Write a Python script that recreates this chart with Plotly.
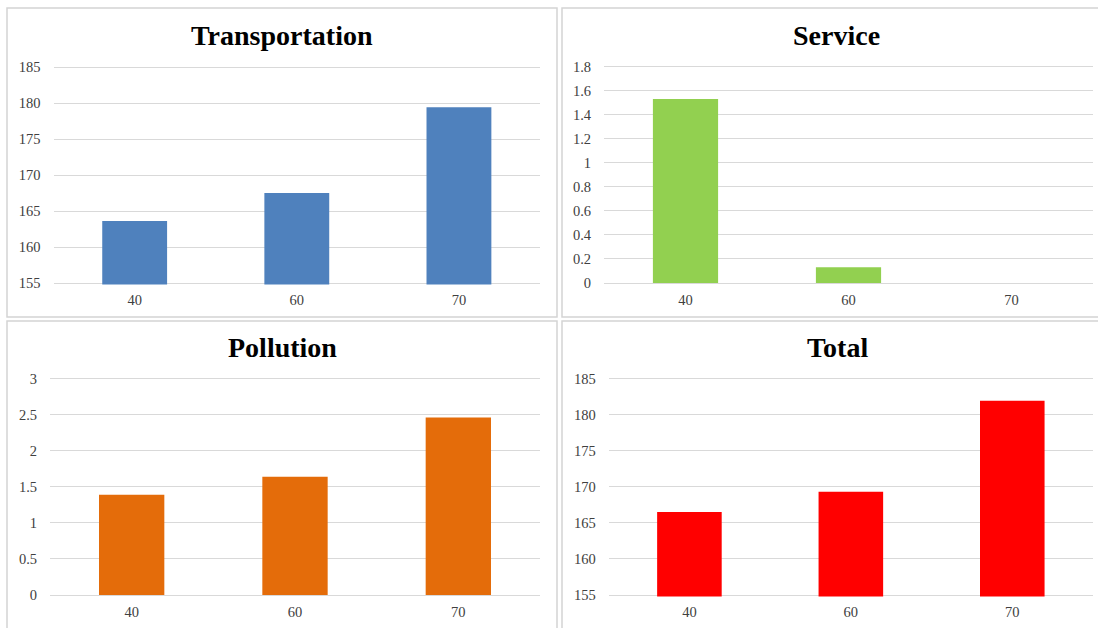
import plotly.graph_objects as go

W, H = 1098, 628

categories = ["40", "60", "70"]
transportation = [163.6, 167.5, 179.4]
service = [1.53, 0.13, 0.0]
pollution = [1.39, 1.64, 2.46]
total = [166.5, 169.3, 181.9]

titles = ["Transportation", "Service", "Pollution", "Total"]
colors = ["#4f81bd", "#92d050", "#e46c0a", "#ff0000"]
series = [transportation, service, pollution, total]
yranges = [[155, 185], [0, 1.8], [0, 3], [155, 185]]
ydticks = [5, 0.2, 0.5, 5]

# pixel layout (left, right, top, bottom) of plot areas
plot_px = [(53.6, 540, 67, 283), (604, 1093, 66.5, 283),
           (50, 540, 378.5, 595), (608.7, 1093, 378.5, 595)]
title_px = [(282, 35), (836, 35), (282, 347), (837, 347)]
box_px = [(7, 557, 8, 317), (562, 1115, 8, 317), (7, 557, 321, 640), (562, 1115, 321, 640)]

def px_x(x):
    return x / W

def px_y(y):
    return 1 - y / H

fig = go.Figure()
font_family = "Liberation Serif, Times New Roman, serif"
tick_font = dict(family=font_family, size=14.5, color="#404040")

for i in range(4):
    xa = "x" if i == 0 else f"x{i+1}"
    ya = "y" if i == 0 else f"y{i+1}"
    fig.add_trace(go.Bar(x=categories, y=series[i], marker=dict(color=colors[i], line=dict(width=0)),
                         width=0.4, xaxis=xa, yaxis=ya, showlegend=False))
    l, r, t, b = plot_px[i]
    lo, hi = yranges[i]
    span = hi - lo
    pxh = b - t
    pad_px = 1.5
    eps = span * pad_px / pxh
    xkey = "xaxis" if i == 0 else f"xaxis{i+1}"
    ykey = "yaxis" if i == 0 else f"yaxis{i+1}"
    fig.layout[xkey] = dict(domain=[px_x(l), px_x(r)], anchor=ya, type="category",
                            range=[-0.5, 2.5], showgrid=False, showline=False, zeroline=False,
                            ticks="", tickfont=tick_font, ticklabelstandoff=5, fixedrange=True,
                            automargin=False)
    fig.layout[ykey] = dict(domain=[px_y(b + pad_px), px_y(t - pad_px)], anchor=xa,
                            range=[lo - eps, hi + eps],
                            tickmode="linear", dtick=ydticks[i], tick0=lo, showgrid=True,
                            gridcolor="#d9d9d9", gridwidth=1,
                            zeroline=False, showline=False, ticks="", tickfont=tick_font,
                            ticklabelstandoff=12, fixedrange=True, automargin=False)
    x0, x1, y0, y1 = box_px[i]
    fig.add_shape(type="rect", xref="paper", yref="paper", x0=px_x(x0), x1=px_x(x1),
                  y0=px_y(y1), y1=px_y(y0), line=dict(color="#d4d4d4", width=1.5),
                  fillcolor="rgba(0,0,0,0)", layer="below")
    tx, ty = title_px[i]
    fig.add_annotation(x=px_x(tx), y=px_y(ty), xref="paper", yref="paper", text=f"<b>{titles[i]}</b>",
                       showarrow=False, xanchor="center", yanchor="middle",
                       font=dict(family=font_family, size=28, color="#000000"))

fig.update_layout(width=W, height=H, margin=dict(l=0, r=0, t=0, b=0, autoexpand=False),
                  paper_bgcolor="white", plot_bgcolor="white", bargap=0.6)

fig.write_html("out.html")
